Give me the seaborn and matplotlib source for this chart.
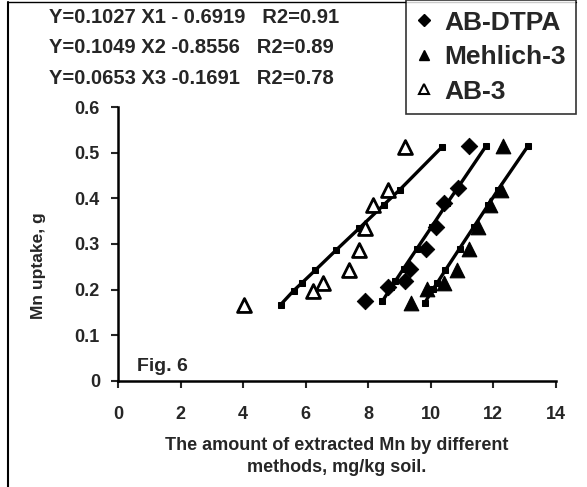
"""Mn uptake vs. Mn extracted by three soil test methods (Fig. 6)."""

import matplotlib

matplotlib.use("Agg")
import matplotlib.pyplot as plt
import pandas as pd
import seaborn as sns
from matplotlib.lines import Line2D

dtpa_x = [7.90, 8.62, 9.17, 9.33, 9.84, 10.17, 10.41, 10.86, 11.21]
dtpa_y = [0.174, 0.205, 0.218, 0.246, 0.290, 0.338, 0.390, 0.423, 0.515]

mehlich_x = [9.38, 9.88, 10.41, 10.85, 11.21, 11.51, 11.90, 12.24, 12.30]
mehlich_y = [0.170, 0.202, 0.214, 0.243, 0.290, 0.338, 0.386, 0.419, 0.514]

ab3_x = [4.04, 6.22, 6.56, 7.37, 7.69, 7.90, 8.15, 8.64, 9.19]
ab3_y = [0.167, 0.198, 0.214, 0.242, 0.287, 0.335, 0.386, 0.419, 0.512]

# Fitted lines (small square markers), x
fit_dtpa_x = [8.45, 8.73, 8.86, 9.13, 9.56, 10.03, 10.53, 10.86, 11.77]
fit_mehlich_x = [9.80, 10.08, 10.20, 10.47, 10.92, 11.38, 11.84, 12.15, 13.10]
fit_ab3_x = [5.20, 5.62, 5.87, 6.30, 6.98, 7.72, 8.50, 9.01, 10.35]

equations = [
    "Y=0.1027 X1 - 0.6919   R2=0.91",
    "Y=0.1049 X2 -0.8556   R2=0.89",
    "Y=0.0653 X3 -0.1691   R2=0.78",
]
methods = ["AB-DTPA", "Mehlich-3", "AB-3"]

pts = pd.concat(
    [
        pd.DataFrame({"x": dtpa_x, "y": dtpa_y, "method": "AB-DTPA"}),
        pd.DataFrame({"x": mehlich_x, "y": mehlich_y, "method": "Mehlich-3"}),
        pd.DataFrame({"x": ab3_x, "y": ab3_y, "method": "AB-3"}),
    ]
)
fits = pd.concat(
    [
        pd.DataFrame({"x": fit_dtpa_x, "y": dtpa_y, "method": "AB-DTPA"}),
        pd.DataFrame({"x": fit_mehlich_x, "y": mehlich_y, "method": "Mehlich-3"}),
        pd.DataFrame({"x": fit_ab3_x, "y": ab3_y, "method": "AB-3"}),
    ]
)

sns.set_style("ticks")
plt.rcParams["font.family"] = ["Liberation Sans", "DejaVu Sans"]
plt.rcParams["font.weight"] = "bold"

fig = plt.figure(figsize=(5.87, 4.87), dpi=100)
ax = fig.add_axes([0.201, 0.218, 0.746, 0.562])

# Fitted lines
for m in methods:
    sns.lineplot(
        data=fits[fits["method"] == m],
        x="x",
        y="y",
        sort=False,
        estimator=None,
        color="black",
        linewidth=2.4,
        marker="s",
        markersize=4,
        markeredgecolor="black",
        ax=ax,
    )

# Observed points
sns.scatterplot(
    data=pts[pts["method"] == "AB-DTPA"], x="x", y="y",
    marker="D", s=70, color="black", edgecolor="black", ax=ax, zorder=3,
)
sns.scatterplot(
    data=pts[pts["method"] == "Mehlich-3"], x="x", y="y",
    marker="^", s=110, color="black", edgecolor="black", ax=ax, zorder=3,
)
sns.scatterplot(
    data=pts[pts["method"] == "AB-3"], x="x", y="y",
    marker="^", s=100, facecolor="white", edgecolor="black", linewidth=2,
    ax=ax, zorder=3,
)

ax.set_xlim(0, 14)
ax.set_ylim(0, 0.6)
ax.set_xticks(range(0, 15, 2))
ax.set_yticks([0, 0.1, 0.2, 0.3, 0.4, 0.5, 0.6])
ax.set_yticklabels(["0", "0.1", "0.2", "0.3", "0.4", "0.5", "0.6"])
ax.tick_params(direction="out", length=5, width=1.5, labelsize=13, pad=13)
ax.tick_params(axis="y", pad=8)
for lab in ax.get_xticklabels() + ax.get_yticklabels():
    lab.set_fontweight("bold")
sns.despine(ax=ax)
for sp in ["left", "bottom"]:
    ax.spines[sp].set_linewidth(1.8)
    ax.spines[sp].set_color("black")

ax.set_xlabel(
    "The amount of extracted Mn by different\nmethods, mg/kg soil.",
    fontsize=13, fontweight="bold", labelpad=10, linespacing=1.4,
)
ax.set_ylabel("Mn uptake, g", fontsize=12.5, fontweight="bold")
ax.yaxis.set_label_coords(-0.165, 0.42)

ax.text(0.6, 0.022, "Fig. 6", fontsize=14, fontweight="bold")

# Regression equations above the plot
for i, eq in enumerate(equations):
    fig.text(0.083, 0.965 - i * 0.063, eq, fontsize=14.5, fontweight="bold",
             va="center", ha="left")

# Legend box in the top right corner
handles = [
    Line2D([], [], marker="D", color="black", linestyle="", markersize=6),
    Line2D([], [], marker="^", color="black", linestyle="", markersize=7),
    Line2D([], [], marker="^", markerfacecolor="white", markeredgecolor="black",
           markeredgewidth=1.5, linestyle="", markersize=7),
]
leg = fig.legend(
    handles, methods, loc="upper right", bbox_to_anchor=(0.982, 1.0),
    fontsize=19, frameon=True, fancybox=False, edgecolor="black",
    handlelength=0.6, handletextpad=0.45, labelspacing=0.4, borderpad=0.4,
    borderaxespad=0,
)
leg.get_frame().set_linewidth(1.2)
for t in leg.get_texts():
    t.set_fontweight("bold")

# Scanned page border
fig.add_artist(Line2D([0.014, 0.014], [0.0, 0.995], color="black", lw=1.5))
fig.add_artist(Line2D([0.014, 0.982], [0.995, 0.995], color="black", lw=1.0))

fig.savefig("out.png", dpi=100)
